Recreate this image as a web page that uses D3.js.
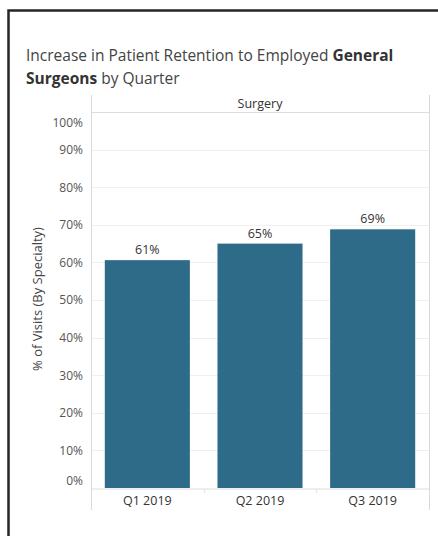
<!DOCTYPE html>
<html><head><meta charset="utf-8">
<script src="https://cdn.jsdelivr.net/npm/d3@7"></script>
<style>body{margin:0;background:#fff;}svg{display:block;}</style>
</head><body>
<svg id="c" width="438" height="536"></svg>
<script>
const quarters = ["Q1 2019", "Q2 2019", "Q3 2019"];
const retention = [0.606, 0.650, 0.688];
const valueLabels = ["61%", "65%", "69%"];
const yTicks = [0, 0.1, 0.2, 0.3, 0.4, 0.5, 0.6, 0.7, 0.8, 0.9, 1.0];
const panelTitle = "Surgery";
const yTitle = "% of Visits (By Specialty)";

(function () {
const svg = d3.select("#c");
const font = "'Open Sans', 'Noto Sans', sans-serif";

// frame
svg.append("path").attr("d", "M8.5,540 L8.5,10.5 L445,10.5")
  .attr("fill", "none").attr("stroke", "#262626").attr("stroke-width", 2.5);

// title
const title = svg.append("text").attr("x", 26).attr("font-family", font)
  .attr("font-size", 15.5).attr("fill", "#444");
const l1 = title.append("tspan").attr("x", 26).attr("y", 61);
l1.append("tspan").text("Increase in Patient Retention to Employed ");
l1.append("tspan").attr("font-weight", "bold").attr("fill", "#333").text("General");
const l2 = title.append("tspan").attr("x", 26).attr("y", 84);
l2.append("tspan").attr("font-weight", "bold").attr("fill", "#333").text("Surgeons");
l2.append("tspan").text(" by Quarter");

const pl = 91, pr = 429, pt = 112, pb = 488;
const x = d3.scaleBand().domain(quarters).range([pl, pr]).paddingInner(0.245).paddingOuter(0.1225);
const xCol = d3.scaleBand().domain(quarters).range([pl, pr]);
const y = d3.scaleLinear().domain([0, 1]).range([pb, pt]);

// gridlines
svg.append("g").selectAll("line").data(yTicks.filter(d => d > 0 && d < 1)).join("line")
  .attr("x1", pl).attr("x2", pr).attr("y1", d => Math.round(y(d)) + 0.5).attr("y2", d => Math.round(y(d)) + 0.5)
  .attr("stroke", "#f0f0f0").attr("stroke-width", 1);

// header
svg.append("line").attr("x1", pl).attr("x2", pr).attr("y1", pt + 0.5).attr("y2", pt + 0.5)
  .attr("stroke", "#dcdcdc");
svg.append("text").attr("x", (pl + pr) / 2).attr("y", 108).attr("text-anchor", "middle")
  .attr("font-family", font).attr("font-size", 12.5).attr("fill", "#333").text(panelTitle);

// bars
svg.append("g").selectAll("rect").data(quarters).join("rect")
  .attr("x", d => x(d)).attr("width", x.bandwidth())
  .attr("y", (d, i) => y(retention[i])).attr("height", (d, i) => y(0) - y(retention[i]))
  .attr("fill", "#2e6b89");

// bar labels
svg.append("g").selectAll("text").data(quarters).join("text")
  .attr("x", d => x(d) + x.bandwidth() / 2).attr("y", (d, i) => y(retention[i]) - 6)
  .attr("text-anchor", "middle").attr("font-family", font).attr("font-size", 12.5).attr("fill", "#333")
  .text((d, i) => valueLabels[i]);

// y axis labels
const yAxis = d3.axisLeft(y).tickValues(yTicks).tickFormat(d3.format(".0%")).tickSize(0).tickPadding(8);
const ya = svg.append("g").attr("transform", `translate(${pl},0)`).call(yAxis);
ya.select(".domain").remove();
ya.selectAll("text").attr("font-family", font).attr("font-size", 12).attr("fill", "#555")
  .attr("dy", d => d === 0 ? "-0.3em" : d === 1 ? "1.2em" : "0.32em");

// baseline
svg.append("line").attr("x1", pl).attr("x2", pr).attr("y1", pb + 1).attr("y2", pb + 1)
  .attr("stroke", "#dcdcdc");
// column dividers in x-axis region
svg.append("g").selectAll("line").data(quarters.slice(1)).join("line")
  .attr("x1", d => Math.round(xCol(d)) + 0.5).attr("x2", d => Math.round(xCol(d)) + 0.5)
  .attr("y1", pb + 1).attr("y2", pb + 5).attr("stroke", "#e6e6e6");

// vertical frame lines
[pl, pr].forEach(px => svg.append("line").attr("x1", px + 0.5).attr("x2", px + 0.5)
  .attr("y1", 95).attr("y2", 510).attr("stroke", "#d9d9d9"));

// x labels
const xAxis = d3.axisBottom(xCol).tickSize(0).tickPadding(8);
const xa = svg.append("g").attr("transform", `translate(0,${pb})`).call(xAxis);
xa.select(".domain").remove();
xa.selectAll("text").attr("font-family", font).attr("font-size", 12.5).attr("fill", "#333");

// y title
svg.append("text").attr("transform", `translate(42,299) rotate(-90)`).attr("text-anchor", "middle")
  .attr("font-family", font).attr("font-size", 13).attr("fill", "#444").text(yTitle);
})();
</script>
</body></html>
